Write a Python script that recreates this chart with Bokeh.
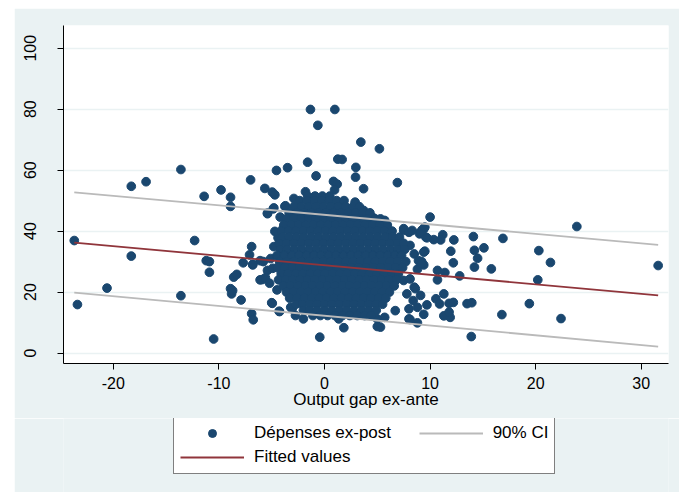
from bokeh.plotting import figure
from bokeh.layouts import column, row
from bokeh.models import Range1d, Legend, LegendItem, FixedTicker, Spacer
from bokeh.embed import file_html
from bokeh.resources import INLINE

# ---- scattered observations (outside the dense core) ----
out_x = [-23.7, -23.4, -20.6, -18.3, -16.9, -18.3, -13.6, -12.3, -13.6, -11.4,
         -9.8, -8.9, -8.9, -7.0, -11.2, -10.9, -10.9, -10.5, -8.6, -8.3,
         -8.9, -8.8, -7.9, -6.9, -7.1, -7.7, -6.8, -6.1, -6.1, -6.9,
         -6.75, -1.33, 0.98, -0.63, 3.44, 5.2, 1.26, 1.67, -1.6, -3.5,
         -4.55, 2.97, 2.94, -0.8, 6.9, 0.85, 1.2, 0.95, 3.7, -5.65,
         -4.95, -4.7, -1.8, -2.9, -3.7, -4.85, -5.4, -4.2, 5.7, 10.0,
         23.9, 14.1, 16.9, 12.25, 11.2, 11.0, 10.35, 9.7, 9.25, 9.0,
         15.1, 14.2, 20.3, 11.96, 9.5, 14.5, 21.4, 12.2, 31.6, 14.2,
         15.8, 10.7, 11.4, 12.8, 10.7, 20.2, 11.3, 10.55, 10.9, 11.8,
         12.2, 13.5, 13.95, 19.4, 9.7, 11.3, 11.9, 11.8, 16.8, 22.4,
         9.4, 8.8, 8.1, 6.7, 13.9, 9.2, 9.4, 8.8, 9.1, 8.6,
         8.4, 8.8, 9.4, 7.5, 9.6, 6.2, 7.5, 8.0, 8.1, 8.5,
         8.9, 7.5, 8.1, 8.5, 7.8, 8.0, 5.7, 5.3, -6.8, -5.8,
         -5.4, -5.9, -5.6, -8.7, -5.0, -4.26, -4.5, -3.06, -2.75, -2.0,
         -0.45, 1.83, 5.0, -4.8, -4.4, -5.4, -3.8, -4.8, -3.75, -4.95,
         -4.3, -3.2, -1.0, 1.35, 5.0, 8.0, -3.9, 3.7, 4.6, 8.3,
         9.1, 9.5, 9.4, 9.2, 2.9, 1.5, -5.1, -4.9, -5.2, -4.7]
out_y = [36.9, 15.9, 21.3, 54.7, 56.2, 31.8, 60.2, 36.9, 18.8, 51.4,
         53.5, 51.1, 48.1, 56.8, 30.3, 30.0, 26.5, 4.6, 24.9, 25.8,
         21.1, 19.4, 17.4, 34.9, 32.2, 29.6, 28.9, 30.3, 24.0, 12.9,
         10.9, 79.9, 79.9, 74.7, 69.2, 67.0, 63.6, 63.5, 62.6, 60.8,
         59.9, 60.9, 57.7, 58.1, 55.9, 56.3, 55.4, 53.5, 53.9, 54.0,
         52.8, 51.9, 52.9, 50.7, 48.3, 47.3, 45.9, 44.6, 43.5, 44.6,
         41.5, 38.2, 37.6, 37.1, 38.8, 37.1, 37.2, 37.8, 40.4, 39.1,
         34.5, 33.7, 33.6, 33.4, 33.4, 31.1, 29.7, 29.6, 28.7, 28.2,
         27.6, 27.1, 26.4, 25.3, 24.0, 24.0, 19.4, 17.8, 16.1, 16.3,
         16.6, 16.2, 16.5, 16.2, 15.8, 12.2, 11.7, 13.4, 12.6, 11.3,
         12.7, 9.9, 11.0, 13.9, 5.4, 30.0, 28.9, 27.5, 18.9, 21.1,
         17.2, 15.0, 40.7, 40.8, 38.0, 39.6, 40.2, 39.6, 35.3, 32.5,
         30.3, 23.8, 24.3, 21.6, 19.4, 14.5, 11.7, 8.5, 29.1, 30.0,
         27.1, 24.1, 24.7, 20.5, 16.5, 13.6, 20.7, 14.5, 12.3, 11.2,
         5.2, 8.3, 8.7, 34.9, 37.8, 45.7, 41.3, 47.6, 48.1, 16.3,
         13.7, 15.0, 13.4, 11.2, 11.2, 11.2, 41.0, 46.8, 44.4, 40.2,
         39.7, 41.3, 33.1, 29.3, 49.5, 49.0, 31.0, 27.8, 22.9, 39.9]

# ---- dense core of observations, read row by row ----
core_row_y = [51.5, 50, 48, 46, 44, 42, 40, 38, 36, 34, 32, 30, 28, 26, 24, 22, 20, 18, 16, 14, 12.3]
core_row_x = [
    [-1.6, -0.9, -0.2, 0.5],
    [-2.35, -1.65, -0.95, -0.25, 0.45, 1.15, 1.85],
    [-2.9, -2.2, -1.5, -0.8, -0.1, 0.6, 1.3, 2.0, 2.7, 3.3],
    [-3.35, -2.65, -1.95, -1.25, -0.55, 0.15, 0.85, 1.55, 2.25, 2.95, 3.65, 4.3],
    [-3.6, -2.9, -2.2, -1.5, -0.8, -0.1, 0.6, 1.3, 2.0, 2.7, 3.4, 4.1, 4.8, 5.3],
    [-3.85, -3.15, -2.45, -1.75, -1.05, -0.35, 0.35, 1.05, 1.75, 2.45, 3.15, 3.85, 4.55, 5.25, 5.95],
    [-4.1, -3.4, -2.7, -2.0, -1.3, -0.6, 0.1, 0.8, 1.5, 2.2, 2.9, 3.6, 4.3, 5.0, 5.7, 6.4],
    [-4.0, -3.35, -2.65, -1.95, -1.25, -0.55, 0.15, 0.85, 1.55, 2.25, 2.95, 3.65, 4.35, 5.05, 5.75, 6.45, 7.1],
    [-4.3, -3.6, -2.9, -2.2, -1.5, -0.8, -0.1, 0.6, 1.3, 2.0, 2.7, 3.4, 4.1, 4.8, 5.5, 6.2, 6.9, 7.5],
    [-4.15, -3.55, -2.85, -2.15, -1.45, -0.75, -0.05, 0.65, 1.35, 2.05, 2.75, 3.45, 4.15, 4.85, 5.55, 6.25, 6.95, 7.6],
    [-4.5, -3.8, -3.1, -2.4, -1.7, -1.0, -0.3, 0.4, 1.1, 1.8, 2.5, 3.2, 3.9, 4.6, 5.3, 6.0, 6.7, 7.3],
    [-4.25, -3.6, -2.9, -2.2, -1.5, -0.8, -0.1, 0.6, 1.3, 2.0, 2.7, 3.4, 4.1, 4.8, 5.5, 6.2, 6.9, 7.7],
    [-4.45, -3.75, -3.05, -2.35, -1.65, -0.95, -0.25, 0.45, 1.15, 1.85, 2.55, 3.25, 3.95, 4.65, 5.35, 6.05, 6.75, 7.4],
    [-4.1, -3.45, -2.75, -2.05, -1.35, -0.65, 0.05, 0.75, 1.45, 2.15, 2.85, 3.55, 4.25, 4.95, 5.65, 6.35, 7.0],
    [-4.35, -3.7, -3.0, -2.3, -1.6, -0.9, -0.2, 0.5, 1.2, 1.9, 2.6, 3.3, 4.0, 4.7, 5.4, 6.1, 6.8],
    [-3.9, -3.2, -2.5, -1.8, -1.1, -0.4, 0.3, 1.0, 1.7, 2.4, 3.1, 3.8, 4.5, 5.2, 5.9, 6.6],
    [-3.6, -2.95, -2.25, -1.55, -0.85, -0.15, 0.55, 1.25, 1.95, 2.65, 3.35, 4.05, 4.75, 5.45, 6.15],
    [-3.3, -2.6, -1.9, -1.2, -0.5, 0.2, 0.9, 1.6, 2.3, 3.0, 3.7, 4.4, 5.1, 5.8],
    [-2.7, -2.1, -1.4, -0.7, 0.0, 0.7, 1.4, 2.1, 2.8, 3.5, 4.2, 4.9, 5.5],
    [-2.0, -1.4, -0.7, 0.0, 0.7, 1.4, 2.1, 2.8, 3.5, 4.2, 4.9],
    [-1.1, -0.4, 0.3, 1.0, 1.7, 2.4, 3.1, 3.8, 4.4],
]

# ---- fitted line and 90% CI ----
fit_x = [-23.7, 31.6]
fit_y = [36.2, 18.9]
ci_hi = [52.7, 35.5]
ci_lo = [19.8, 2.1]

y_ticks = [0, 20, 40, 60, 80, 100]
x_ticks = [-20, -10, 0, 10, 20, 30]
x_tick_labels = {-20: "-20", -10: "-10", 0: "0", 10: "10", 20: "20", 30: "30"}
legend_labels = ["Dépenses ex-post", "90% CI", "Fitted values"]

xs = list(out_x)
ys = list(out_y)
for yv, r in zip(core_row_y, core_row_x):
    xs += r
    ys += [yv] * len(r)

NAVY = "#1a476f"
MAROON = "#90353b"
GRAY = "#bababa"
BG = "#eaf2f3"
FONT = "Liberation Sans"

# ---------------- main plot ----------------
p = figure(width=665, height=410, output_backend="svg", toolbar_location=None,
           x_range=Range1d(-24.72, 32.58), y_range=Range1d(-3.44, 107.45),
           min_border_left=49, min_border_right=11, min_border_top=17, min_border_bottom=55)
p.background_fill_color = "white"
p.border_fill_color = BG
p.outline_line_color = None

p.scatter(xs, ys, size=8.7, color=NAVY, line_color=NAVY)
p.line(fit_x, ci_hi, line_color=GRAY, line_width=1.8)
p.line(fit_x, ci_lo, line_color=GRAY, line_width=1.8)
p.line(fit_x, fit_y, line_color=MAROON, line_width=1.8)

p.xgrid.visible = False
p.ygrid.grid_line_color = BG
p.ygrid.grid_line_width = 1.5
p.ygrid.ticker = FixedTicker(ticks=y_ticks)

for ax in (p.xaxis[0], p.yaxis[0]):
    ax.axis_line_color = "black"
    ax.major_tick_line_color = "black"
    ax.major_tick_out = 6
    ax.major_tick_in = 0
    ax.minor_tick_line_color = None
    ax.major_label_text_font = FONT
    ax.major_label_text_font_size = "16px"
    ax.major_label_text_color = "black"

p.xaxis.ticker = FixedTicker(ticks=x_ticks)
p.xaxis.major_label_overrides = x_tick_labels
p.yaxis.ticker = FixedTicker(ticks=y_ticks)
p.yaxis.major_label_orientation = "parallel"
p.yaxis.major_label_standoff = 21
p.xaxis.major_label_standoff = 7
p.xaxis.axis_label = "Output gap ex-ante"
p.xaxis.axis_label_text_font = FONT
p.xaxis.axis_label_text_font_size = "17px"
p.xaxis.axis_label_text_font_style = "normal"
p.xaxis.axis_label_text_color = "black"
p.xaxis.axis_label_standoff = -2

# ---------------- legend strip (same series, drawn outside its view) ----------------
q = figure(width=665, height=74, output_backend="svg", toolbar_location=None,
           x_range=Range1d(1000, 1001), y_range=Range1d(1000, 1001),
           x_axis_location=None, y_axis_location=None,
           min_border_left=49, min_border_right=11, min_border_top=0, min_border_bottom=0)
q.background_fill_color = BG
q.border_fill_color = BG
q.outline_line_color = None
q.grid.visible = False
lg_sc = q.scatter(xs, ys, size=8.7, color=NAVY, line_color=NAVY)
lg_ci = q.line(fit_x, ci_hi, line_color=GRAY, line_width=1.8)
lg_fit = q.line(fit_x, fit_y, line_color=MAROON, line_width=1.8)

legend = Legend(items=[LegendItem(label=legend_labels[0] + "\u00a0" * 5, renderers=[lg_sc]),
                       LegendItem(label=legend_labels[1], renderers=[lg_ci]),
                       LegendItem(label=legend_labels[2], renderers=[lg_fit])],
                orientation="horizontal", ncols=2, location=(110, 18))
legend.label_text_font = FONT
legend.label_text_font_size = "17px"
legend.label_text_color = "black"
legend.glyph_width = 64
legend.glyph_height = 20
legend.label_standoff = 10
legend.padding = 6
legend.spacing = 4
legend.margin = 0
legend.border_line_color = "black"
legend.border_line_width = 1
legend.background_fill_color = "white"
legend.background_fill_alpha = 1
q.add_layout(legend)

layout = column(Spacer(height=8), row(Spacer(width=14), column(p, q, spacing=0), spacing=0), spacing=0)
open("out.html", "w").write(file_html(layout, INLINE))
